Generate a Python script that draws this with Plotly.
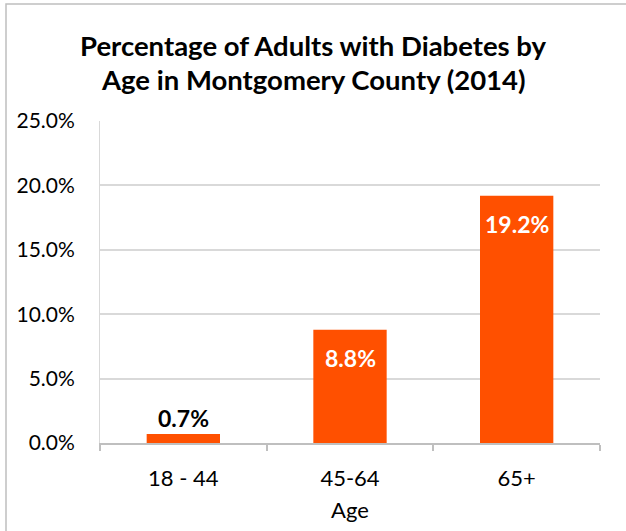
import plotly.graph_objects as go

categories = ["18 - 44", "45-64", "65+"]
values = [0.007, 0.088, 0.192]
label_inside = [False, True, True]
title_lines = ["Percentage of Adults with Diabetes by", "Age in Montgomery County (2014)"]

bar_color = "#FF5000"
font_family = "Lato, 'Open Sans', sans-serif"

fig = go.Figure()
fig.add_trace(go.Bar(
    x=categories, y=values,
    marker=dict(color=bar_color, line=dict(width=0)),
    width=0.44,
    hoverinfo="skip",
))

annotations = []
for c, v, inside in zip(categories, values, label_inside):
    annotations.append(dict(
        x=c, y=v, xref="x", yref="y",
        text=f"<b>{v*100:.1f}%</b>",
        showarrow=False,
        yanchor="middle",
        yshift=-28 if inside else 16,
        font=dict(family=font_family, size=23, color="white" if inside else "black"),
    ))

# title lines (pixel centres 45 and 78 converted to paper coordinates)
for line, ypx in zip(title_lines, [46, 79]):
    annotations.append(dict(
        x=(313 - 100) / 500, y=(443 - ypx) / 322, xref="paper", yref="paper",
        text=f"<b>{line}</b>", showarrow=False,
        xanchor="center", yanchor="middle",
        font=dict(family=font_family, size=27.5, color="black"),
    ))

fig.update_layout(
    width=626, height=531,
    margin=dict(l=100, r=26, t=121, b=88),
    paper_bgcolor="white", plot_bgcolor="white",
    showlegend=False,
    font=dict(family=font_family, size=21, color="black"),
    xaxis=dict(
        type="category",
        showgrid=False,
        showline=True, linecolor="#BFBFBF", linewidth=1.5,
        ticks="outside", tickson="boundaries", ticklen=6, tickcolor="#BFBFBF", tickwidth=1.5,
        ticklabelstandoff=15,
        tickfont=dict(size=22),
        title=dict(text="Age", font=dict(size=22), standoff=12),
    ),
    yaxis=dict(
        range=[0, 0.25], dtick=0.05, tickformat=".1%",
        showgrid=True, gridcolor="#D9D9D9", gridwidth=1.5,
        showline=True, linecolor="#D9D9D9", linewidth=1,
        zeroline=False,
        ticks="", ticklabelstandoff=20,
        tickfont=dict(size=21),
    ),
    annotations=annotations,
    shapes=[dict(
        type="rect", xref="paper", yref="paper",
        x0=(6 - 100) / 500, x1=1.2, y0=-0.4, y1=(443 - 4) / 322,
        line=dict(color="#BFBFBF", width=1.5), fillcolor="rgba(0,0,0,0)", layer="below",
    )],
)

fig.write_html(
    "out.html",
    config={"displayModeBar": False},
    post_script="document.body.style.margin='0';document.body.style.padding='0';",
)
